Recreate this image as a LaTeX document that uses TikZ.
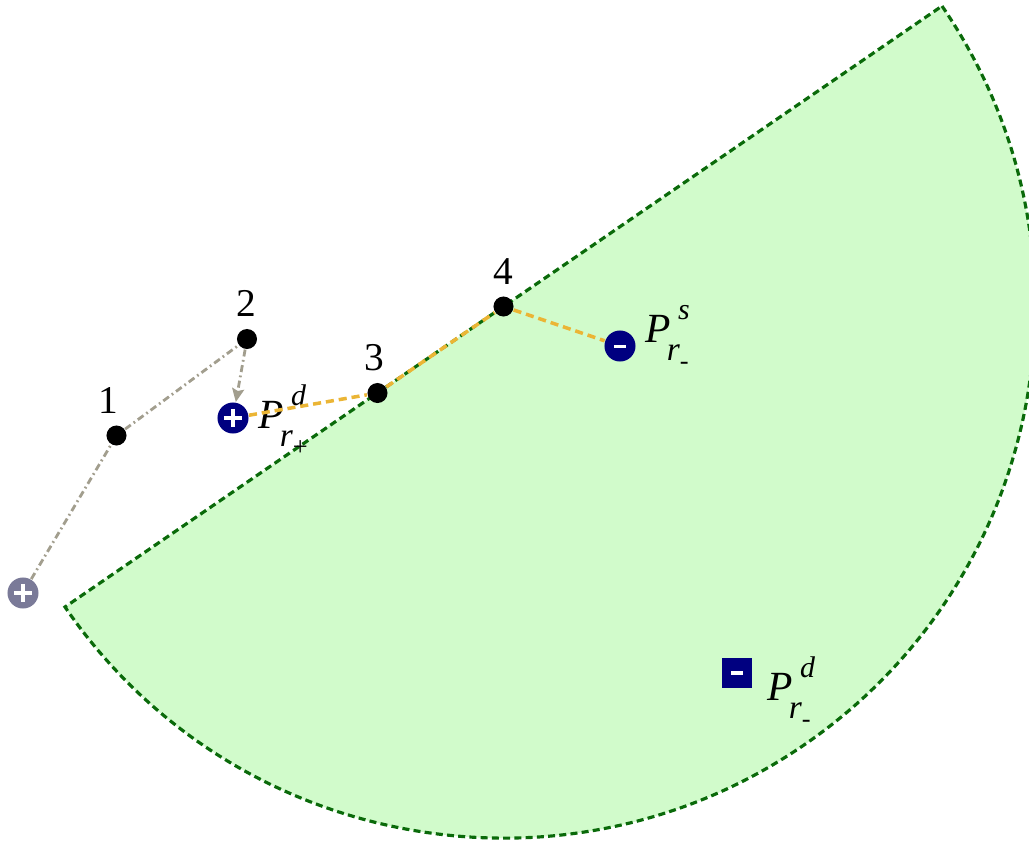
\documentclass[tikz,border=0pt]{standalone}
\usepackage{fontspec}
\setmainfont{Liberation Serif}
\usepackage{tikz}
\usetikzlibrary{arrows.meta,positioning}
\definecolor{zonefill}{HTML}{D1FBCB}
\definecolor{zoneline}{HTML}{0A6A0A}
\definecolor{navyq}{HTML}{000080}
\definecolor{ghostq}{HTML}{7A7A98}
\definecolor{trailgray}{HTML}{A29E8E}
\definecolor{pathgold}{HTML}{EBB535}
\newcommand{\plab}[2]{\textit{P}\rlap{\kern-1.2pt\raisebox{-5.2pt}{\fontsize{9.5}{10}\selectfont\textit{r}\raisebox{-2.5pt}{\fontsize{7.5}{8}\selectfont #2}}}\kern2pt\raisebox{6.3pt}{\fontsize{8.5}{9}\selectfont\textit{#1}}}
\tikzset{
  pathdot/.style={circle,fill=black,inner sep=0pt,minimum size=0.2cm},
  numlbl/.style={inner sep=0pt,font=\fontsize{11.2}{13}\selectfont},
  plabel/.style={inner sep=0pt,anchor=base west,font=\fontsize{11.8}{13}\selectfont},
  posq/.style={circle,fill=#1,inner sep=0pt,minimum size=0.31cm,
    path picture={\draw[white,line width=0.95pt]
      ([xshift=0.065cm]path picture bounding box.west) -- ++(0.18cm,0)
      ([yshift=-0.065cm]path picture bounding box.north) -- ++(0,-0.18cm);}},
  negq/.style={circle,fill=navyq,inner sep=0pt,minimum size=0.31cm,
    path picture={\fill[white] ([xshift=-0.055cm,yshift=-0.015cm]path picture bounding box.center)
      rectangle ++(0.11cm,0.03cm);}},
  negsq/.style={rectangle,fill=navyq,inner sep=0pt,minimum size=0.3cm,
    path picture={\fill[white] ([xshift=-0.06cm,yshift=-0.02cm]path picture bounding box.center)
      rectangle ++(0.12cm,0.04cm);}},
  zone/.style={fill=zonefill,draw=zoneline,line width=0.9pt,dash pattern=on 2pt off 1.2pt},
  trail/.style={draw=trailgray,line width=0.8pt,dash pattern=on 2pt off 1pt on 0.5pt off 1pt},
  goldpath/.style={draw=pathgold,line width=1pt,dash pattern=on 2.3pt off 1.4pt},
  tiparr/.style={-{Stealth[length=3.8pt,width=3.4pt,inset=0.6pt]}}
}
\begin{document}
\begin{tikzpicture}[x=0.01cm,y=0.01cm]
  \useasboundingbox (0,0) rectangle (1029,844);
  % half disc around point 4
  \coordinate (c4) at (503.5,537.5);
  \path[zone] (c4) ++(34.42:531.6) arc[start angle=34.42,end angle=-145.58,radius=531.6] -- cycle;

  \node[posq=ghostq] (qs) at (23,251) {};
  \foreach \i/\xx/\yy/\dx in {1/116.5/408.5/-0.08cm, 2/247/505/-0.01cm, 3/377.5/451/-0.035cm} {
    \node[pathdot] (n\i) at (\xx,\yy) {};
    \node[numlbl,above=0.11cm of n\i,xshift=\dx] (l\i) {\i};
  }
  \node[pathdot] (n4) at (c4) {};
  \node[numlbl,above=0.11cm of n4] (l4) {4};

  \node[posq=navyq] (qp) at (233,426) {};
  \node[negq] (qm) at (620,498) {};
  \node[negsq] (qd) at (737,171) {};

  \node[plabel] (lp) at (258,416) {\plab{d}{+}};
  \node[plabel] (ls) at (645,502) {\plab{s}{-}};
  \node[plabel] (ld) at (767,144) {\plab{d}{-}};

  \draw[trail] (qs) -- (n1) -- (n2);
  \draw[trail,tiparr] (n2) -- (qp);
  \draw[goldpath] (qp) -- (n3) -- (n4) -- (qm);
\end{tikzpicture}
\end{document}
